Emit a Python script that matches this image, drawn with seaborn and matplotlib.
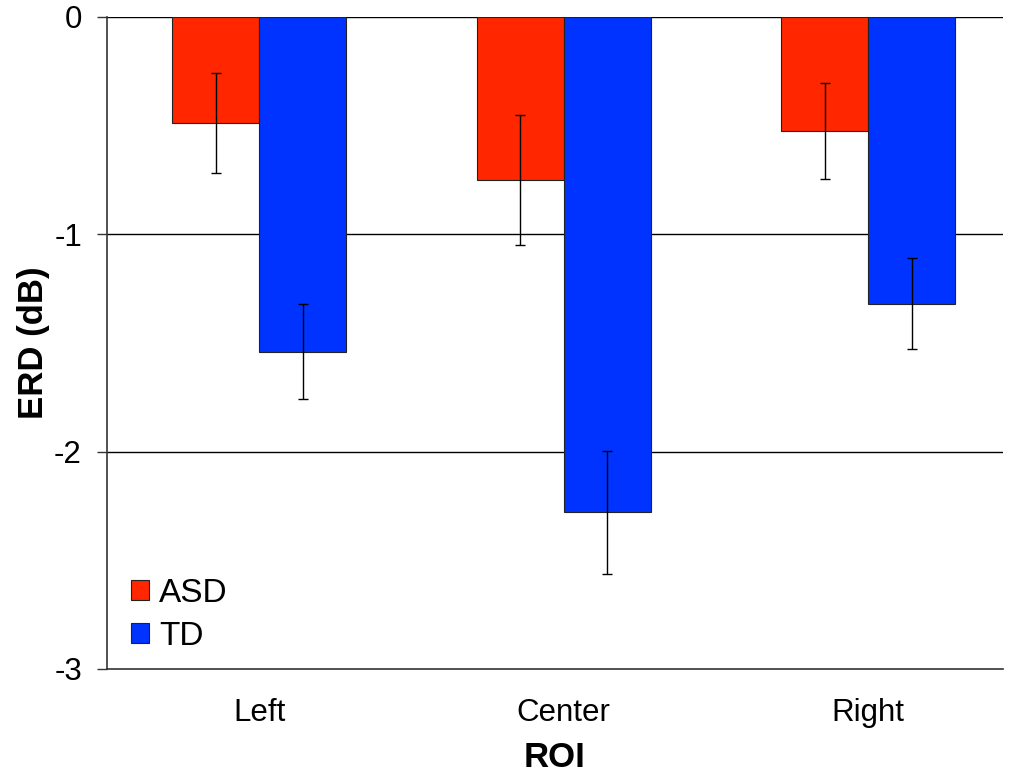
import matplotlib
matplotlib.use("Agg")
import matplotlib.pyplot as plt
import seaborn as sns
import pandas as pd

regions = ["Left", "Center", "Right"]
groups = ["ASD", "TD"]
asd_mean = [-0.49, -0.75, -0.525]
td_mean = [-1.54, -2.28, -1.32]
asd_err = [0.23, 0.30, 0.22]
td_err = [0.22, 0.285, 0.21]
yticks = [0, -1, -2, -3]
colors = ["#FF2600", "#0033FF"]

df = pd.DataFrame({
    "ROI": regions * 2,
    "Group": ["ASD"] * 3 + ["TD"] * 3,
    "ERD": asd_mean + td_mean,
    "err": asd_err + td_err,
})

sns.set_style("white")
plt.rcParams["font.family"] = ["Liberation Sans", "DejaVu Sans"]
plt.rcParams["text.color"] = "black"
plt.rcParams["axes.labelcolor"] = "black"
plt.rcParams["xtick.color"] = "black"
plt.rcParams["ytick.color"] = "black"

fig = plt.figure(figsize=(10.11, 7.75), dpi=100)
ax = fig.add_axes([0.1058, 0.1368, 0.8862, 0.8413])

sns.barplot(data=df, x="ROI", y="ERD", hue="Group", order=regions,
            hue_order=groups, palette=colors, width=0.572, gap=0,
            errorbar=None, edgecolor="#222222", linewidth=0.8,
            saturation=1, ax=ax, zorder=2)

for cont, g in zip(ax.containers, groups):
    sub = df[df["Group"] == g].set_index("ROI").loc[regions]
    xs = [p.get_x() + p.get_width() / 2 for p in cont.patches]
    ax.errorbar(xs, sub["ERD"].values, yerr=sub["err"].values, fmt="none",
                ecolor="black", elinewidth=1.0, capsize=3.6, capthick=1.0,
                zorder=3)

ax.set_ylim(-3, 0)
ax.set_xlim(-0.5, 2.443)
ax.set_yticks(yticks)
ax.set_yticklabels([str(t) for t in yticks])
for t in yticks[:-1]:
    ax.axhline(t, color="black", lw=1.0, zorder=1)

for s in ["top", "right"]:
    ax.spines[s].set_visible(False)
for s in ["left", "bottom"]:
    ax.spines[s].set_color("#333333")
    ax.spines[s].set_linewidth(1.2)

ax.tick_params(axis="y", length=7, width=1.0, color="#333333",
               direction="out", left=True, labelsize=22.5, labelcolor="black",
               pad=11)
ax.tick_params(axis="x", length=0, labelsize=22.5, labelcolor="black", pad=21)

ax.set_xlabel("ROI", fontsize=25, fontweight="bold", labelpad=9,
              color="black")
ax.set_ylabel("ERD (dB)", fontsize=25, fontweight="bold", labelpad=3,
              color="black")

leg = ax.legend(title=None, loc="lower left", bbox_to_anchor=(0.012, 0.006),
                frameon=False, fontsize=24, handlelength=0.55,
                handleheight=0.55, handletextpad=0.3, labelspacing=0.36,
                borderaxespad=0)
for t in leg.get_texts():
    t.set_color("black")

fig.savefig("out.png", dpi=100)
